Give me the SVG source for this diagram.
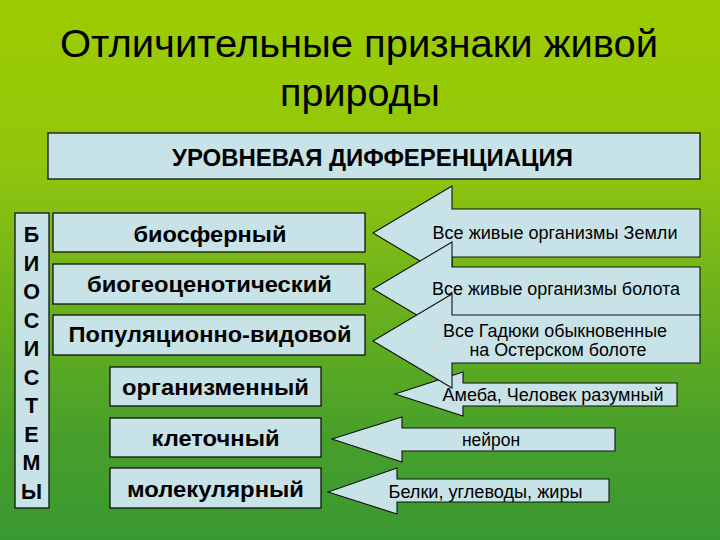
<svg xmlns="http://www.w3.org/2000/svg" width="720" height="540" viewBox="0 0 720 540">
<defs>
<linearGradient id="bg" x1="0" y1="0" x2="0" y2="1">
<stop offset="0" stop-color="#9ccc00"/>
<stop offset="0.3" stop-color="#92c60c"/>
<stop offset="0.55" stop-color="#6db21c"/>
<stop offset="0.8" stop-color="#48a02a"/>
<stop offset="1" stop-color="#3a9832"/>
</linearGradient>
<style>
.box{fill:#c8e3e8;stroke:#111;stroke-width:1.3}
.arr{fill:#c8e3e8;stroke:#111;stroke-width:1.1;stroke-linejoin:miter}
text{font-family:"Liberation Sans",Arial,sans-serif;fill:#000;text-anchor:middle}
.title{font-size:38px}
.hdr{font-size:23.5px;font-weight:bold}
.lvl{font-size:22.5px;font-weight:bold}
.vert{font-size:21.5px;font-weight:bold}
.lab{font-size:17.5px}
</style>
</defs>
<rect x="0" y="0" width="720" height="540" fill="url(#bg)"/>

<g id="title">
<text class="title" x="359" y="57" textLength="598" lengthAdjust="spacingAndGlyphs">Отличительные признаки живой</text>
<text class="title" x="360" y="106" textLength="160" lengthAdjust="spacingAndGlyphs">природы</text>
</g>

<g id="header">
<rect class="box" x="48" y="133" width="652" height="46"/>
<text class="hdr" x="372.5" y="165.5" textLength="401" lengthAdjust="spacingAndGlyphs">УРОВНЕВАЯ ДИФФЕРЕНЦИАЦИЯ</text>
</g>

<g id="biosystems">
<rect class="box" x="15" y="213" width="34" height="295"/>
<text class="vert" x="31.5" y="242">Б</text>
<text class="vert" x="31.5" y="270.5">И</text>
<text class="vert" x="31.5" y="299">О</text>
<text class="vert" x="31.5" y="327.5">С</text>
<text class="vert" x="31.5" y="356">И</text>
<text class="vert" x="31.5" y="384.5">С</text>
<text class="vert" x="31.5" y="413">Т</text>
<text class="vert" x="31.5" y="441.5">Е</text>
<text class="vert" x="31.5" y="470">М</text>
<text class="vert" x="31.5" y="498.5">Ы</text>
</g>

<g id="level-biosphere">
<rect class="box" x="53" y="213" width="312" height="39"/>
<text class="lvl" x="210" y="242" textLength="153" lengthAdjust="spacingAndGlyphs">биосферный</text>
</g>
<g id="level-biogeocenotic">
<rect class="box" x="53" y="264" width="312" height="40"/>
<text class="lvl" x="209.5" y="292" textLength="245" lengthAdjust="spacingAndGlyphs">биогеоценотический</text>
</g>
<g id="level-population">
<rect class="box" x="53" y="315" width="312" height="40"/>
<text class="lvl" x="210" y="342" textLength="283" lengthAdjust="spacingAndGlyphs">Популяционно-видовой</text>
</g>
<g id="level-organism">
<rect class="box" x="110" y="367" width="211" height="39"/>
<text class="lvl" x="215.5" y="395" textLength="187" lengthAdjust="spacingAndGlyphs">организменный</text>
</g>
<g id="level-cell">
<rect class="box" x="110" y="418" width="211" height="39"/>
<text class="lvl" x="215.5" y="446" textLength="128" lengthAdjust="spacingAndGlyphs">клеточный</text>
</g>
<g id="level-molecular">
<rect class="box" x="110" y="468" width="211" height="40"/>
<text class="lvl" x="215.5" y="496.5" textLength="177" lengthAdjust="spacingAndGlyphs">молекулярный</text>
</g>

<g id="connectors">
<g id="arrow-earth">
<polygon class="arr" points="373,233 452,186 452,209 700,209 700,257 452,257 452,280"/>
<text class="lab" x="555" y="239" textLength="245" lengthAdjust="spacingAndGlyphs">Все живые организмы Земли</text>
</g>
<g id="arrow-swamp">
<polygon class="arr" points="373,289 452,242 452,267 700,267 700,316 452,316 452,336"/>
<text class="lab" x="556" y="295" textLength="248" lengthAdjust="spacingAndGlyphs">Все живые организмы болота</text>
</g>
<g id="arrow-organism">
<polygon class="arr" points="395,394 463,372 463,383 677,383 677,406 463,406 463,416"/>
<text class="lab" x="553" y="401" textLength="221" lengthAdjust="spacingAndGlyphs">Амеба, Человек разумный</text>
</g>
<g id="arrow-viper">
<polygon class="arr" points="373,341 452,294 452,315 700,315 700,363 452,363 452,388"/>
<text class="lab" x="555" y="336.5" textLength="224" lengthAdjust="spacingAndGlyphs">Все Гадюки обыкновенные</text>
<text class="lab" x="558" y="355.5" textLength="177" lengthAdjust="spacingAndGlyphs">на Остерском болоте</text>
</g>
<g id="arrow-neuron">
<polygon class="arr" points="332,439 402,417 402,428 615,428 615,451 402,451 402,462"/>
<text class="lab" x="491" y="446" textLength="58" lengthAdjust="spacingAndGlyphs">нейрон</text>
</g>
<g id="arrow-molecules">
<polygon class="arr" points="328,492 397,468 397,479 609,479 609,502 397,502 397,514"/>
<text class="lab" x="485.5" y="497.5" textLength="194" lengthAdjust="spacingAndGlyphs">Белки, углеводы, жиры</text>
</g>
</g>
</svg>
